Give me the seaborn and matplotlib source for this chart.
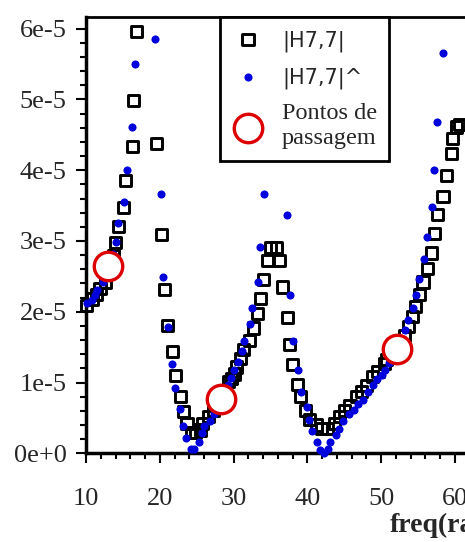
import numpy as np
import pandas as pd
import matplotlib.pyplot as plt
from matplotlib.ticker import MultipleLocator, FuncFormatter
import seaborn as sns

sns.set_style("ticks")
plt.rcParams['font.family'] = ['Liberation Serif', 'DejaVu Serif']

# |H7,7| (open squares), magnitude in units of 1e-5
sq_freq = [10.1, 10.9, 11.4, 11.9, 12.6, 13.0, 13.7, 14.0, 14.4, 15.1, 15.4, 16.3, 16.5, 16.9,
           19.5, 20.2, 20.6, 21.1, 21.7, 22.1, 22.8, 23.2, 23.7, 24.3, 24.8, 25.5, 25.8, 26.6,
           27.3, 27.8, 28.5, 29.3, 29.7, 30.1, 30.4, 31.0, 31.4, 32.2, 32.7, 33.3, 33.7, 34.1,
           34.6, 35.0, 35.8, 36.2, 36.7, 37.3, 37.6, 38.0, 38.7, 39.1, 39.8, 40.3, 41.2, 41.9,
           42.8, 43.7, 44.4, 45.1, 45.8, 46.7, 47.3, 48.0, 48.9, 49.6, 50.5, 50.8, 51.7, 52.5,
           53.2, 53.7, 54.3, 54.7, 55.2, 55.7, 56.3, 56.9, 57.3, 57.7, 58.4, 58.9, 59.5, 59.7,
           60.2, 60.6]
sq_mag = [2.09, 2.18, 2.24, 2.33, 2.41, 2.59, 2.80, 2.98, 3.21, 3.47, 3.86, 4.34, 4.98, 5.96,
          4.38, 3.09, 2.31, 1.81, 1.44, 1.10, 0.80, 0.59, 0.42, 0.29, 0.29, 0.33, 0.42, 0.52,
          0.61, 0.70, 0.80, 1.01, 1.06, 1.12, 1.22, 1.34, 1.47, 1.59, 1.77, 1.97, 2.19, 2.46,
          2.73, 2.91, 2.91, 2.73, 2.35, 1.92, 1.54, 1.25, 0.97, 0.80, 0.61, 0.48, 0.40, 0.35,
          0.35, 0.42, 0.52, 0.61, 0.68, 0.80, 0.87, 0.96, 1.08, 1.15, 1.27, 1.32, 1.45, 1.56,
          1.66, 1.79, 1.93, 2.07, 2.24, 2.42, 2.61, 2.83, 3.10, 3.37, 3.63, 3.93, 4.24, 4.45,
          4.61, 4.64]

# |H7,7|^ (blue dots), magnitude in units of 1e-5
dot_freq = [10.1, 10.8, 11.2, 11.5, 12.3, 12.7, 13.2, 13.7, 14.0, 14.4, 15.1, 15.5, 16.2, 16.6,
            19.4, 20.2, 20.5, 21.1, 21.7, 22.0, 22.7, 23.2, 23.5, 24.2, 24.6, 25.3, 25.7, 26.0,
            26.8, 27.3, 27.8, 28.4, 29.2, 29.6, 30.1, 30.6, 31.1, 31.4, 32.2, 32.5, 33.3, 33.6,
            34.1, 37.3, 37.7, 38.0, 38.8, 39.1, 39.9, 40.2, 40.6, 41.3, 41.7, 42.3, 42.8, 43.1,
            43.9, 44.3, 44.9, 45.6, 46.4, 46.9, 47.6, 48.3, 48.9, 49.5, 50.1, 50.6, 51.1, 51.6,
            52.3, 53.2, 53.7, 54.3, 54.8, 55.2, 55.8, 56.2, 56.9, 57.2, 57.6, 58.4]
dot_mag = [2.12, 2.17, 2.24, 2.31, 2.42, 2.52, 2.65, 2.82, 2.99, 3.25, 3.55, 4.00, 4.61, 5.50,
           5.85, 3.66, 2.49, 1.79, 1.26, 0.92, 0.62, 0.39, 0.21, 0.06, 0.06, 0.16, 0.28, 0.39,
           0.46, 0.56, 0.66, 0.78, 0.96, 1.07, 1.18, 1.29, 1.45, 1.59, 1.82, 2.05, 2.42, 2.91,
           3.66, 3.37, 2.24, 1.59, 1.18, 0.87, 0.66, 0.47, 0.31, 0.16, 0.05, 0.0, 0.06, 0.16,
           0.26, 0.35, 0.45, 0.55, 0.61, 0.70, 0.76, 0.87, 0.96, 1.05, 1.11, 1.18, 1.27, 1.38,
           1.52, 1.74, 1.89, 2.06, 2.24, 2.46, 2.75, 3.06, 3.48, 4.00, 4.68, 5.66]

# pontos de passagem (red circles)
pp_freq = [13.0, 28.3, 52.2]
pp_mag = [2.64, 0.77, 1.48]

df_sq = pd.DataFrame({'freq': sq_freq, 'mag': np.array(sq_mag) * 1e-5})
df_dot = pd.DataFrame({'freq': dot_freq, 'mag': np.array(dot_mag) * 1e-5})
df_pp = pd.DataFrame({'freq': pp_freq, 'mag': np.array(pp_mag) * 1e-5})

fig = plt.figure(figsize=(4.65, 5.42), dpi=100)
ax = fig.add_axes([86/465, 88.7/542, 413/465, 436.3/542])

sns.scatterplot(data=df_sq, x='freq', y='mag', marker='s', s=64, facecolor='none',
                edgecolor='black', linewidth=2.1, label='|H7,7|', ax=ax, zorder=2, clip_on=False)
sns.scatterplot(data=df_dot, x='freq', y='mag', marker='o', s=34, color='#0000dd',
                linewidth=0, label='|H7,7|^', ax=ax, zorder=3, clip_on=False)
sns.scatterplot(data=df_pp, x='freq', y='mag', marker='o', s=420, facecolor='white',
                edgecolor='#dd0000', linewidth=2.4, label='Pontos de\npassagem', ax=ax, zorder=4,
                clip_on=False)

ax.set_xlim(10, 66)
ax.set_ylim(0, 6.165e-5)
ax.xaxis.set_major_locator(MultipleLocator(10))
ax.xaxis.set_minor_locator(MultipleLocator(2))
ax.yaxis.set_major_locator(MultipleLocator(1e-5))
ax.yaxis.set_minor_locator(MultipleLocator(0.2e-5))


def sci_label(v, pos):
    if abs(v) < 1e-12:
        return '0e+0'
    exp = int(np.floor(np.log10(abs(v))))
    return '{:d}e{:+d}'.format(int(round(v / 10**exp)), exp)


ax.yaxis.set_major_formatter(FuncFormatter(sci_label))
ax.set_xlabel('')
ax.set_ylabel('')

ax.tick_params(which='major', direction='out', length=7, width=1.5, labelsize=19, color='black')
ax.tick_params(which='minor', direction='out', length=4.5, width=1.5, color='black')
ax.tick_params(axis='x', which='major', pad=18)
ax.tick_params(axis='y', which='major', pad=7)

for side in ['left', 'bottom']:
    ax.spines[side].set_linewidth(2.5)
    ax.spines[side].set_color('black')
ax.spines['top'].set_linewidth(2)
ax.spines['top'].set_color('black')

leg = ax.legend(loc='upper left', bbox_to_anchor=(0.3245, 1.0), borderaxespad=0,
                frameon=True, fancybox=False, edgecolor='black', framealpha=1, fontsize=17.5,
                handlelength=1.3, handletextpad=0.75, borderpad=0.5, labelspacing=0.6)
leg.get_frame().set_linewidth(2)
for t in leg.get_texts()[:2]:
    t.set_fontfamily(['DejaVu Sans'])
    t.set_fontsize(15)

fig.text(390/465, 10/542, 'freq(rad/s)', fontweight='bold', fontsize=20, ha='left', va='baseline')

fig.savefig('out.png', dpi=100)
